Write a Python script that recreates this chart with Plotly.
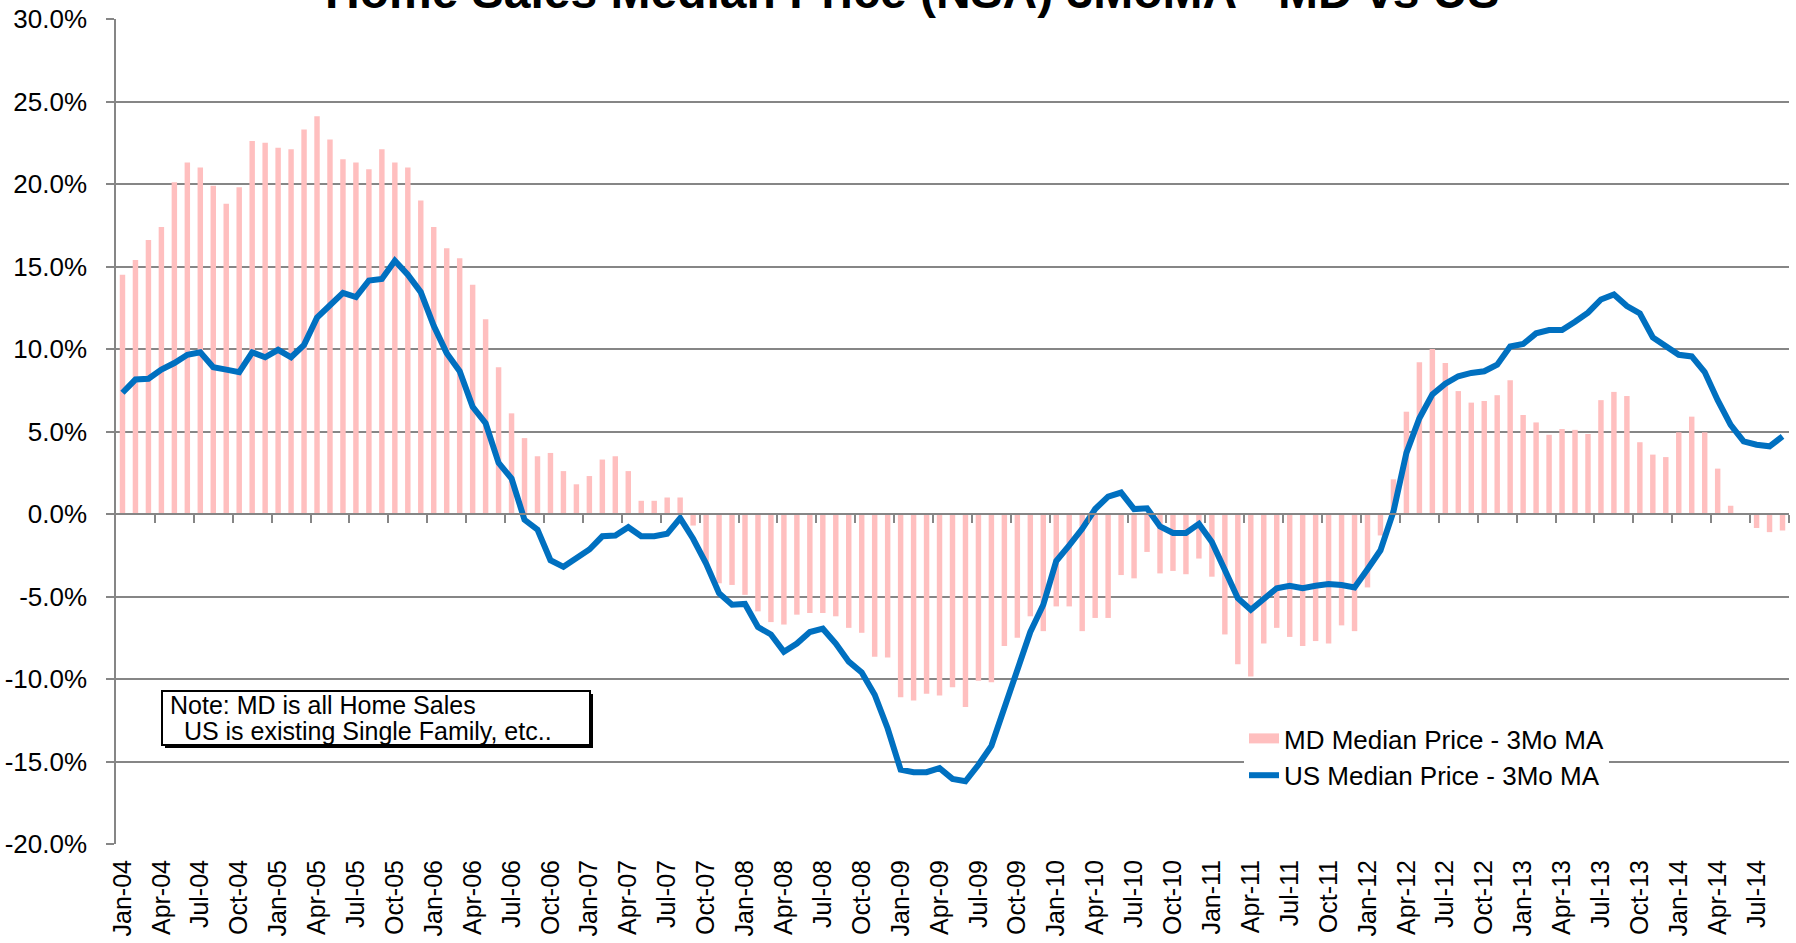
import plotly.graph_objects as go

# ---------------- data ----------------
month_abbr = ['Jan', 'Feb', 'Mar', 'Apr', 'May', 'Jun', 'Jul', 'Aug', 'Sep', 'Oct', 'Nov', 'Dec']
categories = [f"{m}-{y:02d}" for y in range(4, 15) for m in month_abbr][:129]   # Jan-04 .. Sep-14

md_median_3mma = [
    14.5, 15.4, 16.6, 17.4, 20.1, 21.3, 21.0, 19.9, 18.8, 19.8, 22.6, 22.5,   # 2004
    22.2, 22.1, 23.3, 24.1, 22.7, 21.5, 21.3, 20.9, 22.1, 21.3, 21.0, 19.0,   # 2005
    17.4, 16.1, 15.5, 13.9, 11.8, 8.9, 6.1, 4.6, 3.5, 3.7, 2.6, 1.8,          # 2006
    2.3, 3.3, 3.5, 2.6, 0.8, 0.8, 1.0, 1.0, -0.7, -2.9, -4.2, -4.3,           # 2007
    -4.9, -5.9, -6.55, -6.7, -6.1, -6.0, -6.0, -6.2, -6.9, -7.2, -8.65, -8.7, # 2008
    -11.1, -11.3, -10.9, -11.0, -10.5, -11.7, -10.1, -10.2, -8.0, -7.5, -6.2, -7.1,  # 2009
    -5.6, -5.6, -7.1, -6.3, -6.3, -3.7, -3.9, -2.3, -3.6, -3.45, -3.65, -2.7, # 2010
    -3.8, -7.3, -9.1, -9.85, -7.85, -6.9, -7.45, -8.0, -7.7, -7.85, -6.75, -7.1,  # 2011
    -4.45, -1.3, 2.1, 6.2, 9.2, 10.0, 9.15, 7.45, 6.75, 6.85, 7.2, 8.1,       # 2012
    6.0, 5.55, 4.8, 5.15, 5.1, 4.85, 6.9, 7.4, 7.15, 4.35, 3.6, 3.45,         # 2013
    4.95, 5.9, 4.95, 2.75, 0.5, -0.05, -0.85, -1.1, -1.0,                     # 2014
]

us_median_3mma = [
    7.35, 8.15, 8.2, 8.75, 9.15, 9.65, 9.8, 8.9, 8.75, 8.6, 9.8, 9.5,         # 2004
    9.95, 9.5, 10.25, 11.9, 12.65, 13.4, 13.15, 14.15, 14.25, 15.35, 14.5, 13.45,  # 2005
    11.4, 9.75, 8.65, 6.5, 5.5, 3.1, 2.15, -0.35, -0.95, -2.8, -3.2, -2.7,    # 2006
    -2.15, -1.35, -1.3, -0.8, -1.35, -1.35, -1.2, -0.25, -1.5, -3.0, -4.8, -5.5,  # 2007
    -5.45, -6.85, -7.3, -8.35, -7.85, -7.15, -6.95, -7.85, -8.95, -9.6, -10.95, -13.0,  # 2008
    -15.5, -15.65, -15.65, -15.4, -16.05, -16.2, -15.2, -14.05, -11.7, -9.6, -7.15, -5.5,  # 2009
    -2.85, -1.9, -0.9, 0.3, 1.05, 1.3, 0.3, 0.35, -0.75, -1.15, -1.15, -0.6,  # 2010
    -1.7, -3.4, -5.1, -5.8, -5.1, -4.5, -4.35, -4.5, -4.35, -4.25, -4.3, -4.45,  # 2011
    -3.35, -2.2, 0.15, 3.7, 5.8, 7.25, 7.9, 8.35, 8.55, 8.65, 9.05, 10.15,    # 2012
    10.3, 10.95, 11.15, 11.15, 11.65, 12.2, 13.0, 13.3, 12.6, 12.15, 10.7, 10.2,  # 2013
    9.65, 9.55, 8.6, 6.9, 5.4, 4.4, 4.2, 4.1, 4.7,                            # 2014
]

tick_labels = categories[::3]                       # Jan-04, Apr-04, ... Jul-14
quarter_bounds = [3 * k - 0.5 for k in range(1, 44)]  # tick marks between quarters
y_ticks = [-20, -15, -10, -5, 0, 5, 10, 15, 20, 25, 30]
y_tick_text = [f"{v:.1f}%" for v in y_ticks]

title_text = "Home Sales Median Price (NSA) 3MoMA - MD vs US"
md_name = "MD Median Price - 3Mo MA"
us_name = "US Median Price - 3Mo MA"
note_lines = ["Note: MD is all Home Sales", "\u00a0\u00a0US is existing Single Family, etc.."]

# ---------------- styling ----------------
W, H = 1796, 943
ML, MR, MT, MB = 116, 7, 19, 99
PW, PH = W - ML - MR, H - MT - MB
FONT = "Arial, 'Liberation Sans', Helvetica, sans-serif"
GRID = "#868686"
PINK = "#FFBFBF"
BLUE = "#0070C0"


def px_x(px):
    return (px - ML) / PW


def px_y(py):
    return (H - MB - py) / PH


fig = go.Figure()
fig.add_trace(go.Bar(x=categories, y=md_median_3mma, name=md_name,
                     marker=dict(color=PINK, line=dict(width=0)), showlegend=False))
# legend proxy for the bar series (wide pink swatch)
fig.add_trace(go.Scatter(x=[None], y=[None], mode="lines", name=md_name,
                         line=dict(color=PINK, width=14)))
fig.add_trace(go.Scatter(x=categories, y=us_median_3mma, mode="lines", name=us_name,
                         line=dict(color=BLUE, width=6)))
# helper trace so the zero-line category axis is drawn
fig.add_trace(go.Scatter(x=[None], y=[None], xaxis="x2", showlegend=False, hoverinfo="skip"))

fig.update_layout(
    width=W, height=H,
    margin=dict(l=ML, r=MR, t=MT, b=MB, pad=0, autoexpand=False),
    paper_bgcolor="white", plot_bgcolor="white",
    bargap=0.58,
    font=dict(family=FONT, size=26, color="black"),
    showlegend=True,
    legend=dict(x=px_x(1244), y=px_y(715), xanchor="left", yanchor="top",
                bgcolor="white", borderwidth=0, font=dict(size=26, color="black"),
                traceorder="normal", tracegroupgap=0),
    xaxis=dict(type="category", range=[-0.5, 128.5], tickmode="array",
               tickvals=tick_labels, ticktext=tick_labels, tickangle=-90,
               ticks="outside", ticklen=5, tickcolor="rgba(0,0,0,0)",
               showgrid=False, showline=False, zeroline=False, automargin=False,
               tickfont=dict(size=25, color="black")),
    xaxis2=dict(overlaying="x", anchor="free", position=0.4, range=[-0.5, 128.5],
                tickmode="array", tickvals=quarter_bounds, ticks="outside", ticklen=8,
                tickcolor=GRID, tickwidth=1.5, showticklabels=False,
                showline=True, linecolor=GRID, linewidth=1.5,
                showgrid=False, zeroline=False, automargin=False),
    yaxis=dict(range=[-20, 30], tickmode="array", tickvals=y_ticks, ticktext=y_tick_text,
               showgrid=True, gridcolor=GRID, gridwidth=1.5,
               showline=True, linecolor=GRID, linewidth=1.5,
               ticks="outside", ticklen=8, tickcolor=GRID, tickwidth=1.5,
               zeroline=False, ticklabelstandoff=14, automargin=False,
               tickfont=dict(size=26, color="black")),
)

# title (partly cut off at the top, as in the reference)
fig.add_annotation(text=f"<b>{title_text}</b>", x=px_x(912), y=px_y(20),
                   xref="paper", yref="paper", xanchor="center", yanchor="bottom",
                   showarrow=False, font=dict(size=48, color="black", family=FONT))

# note box with shadow
bx0, bx1, by0, by1 = 162, 590, 691, 745
fig.add_shape(type="rect", xref="paper", yref="paper",
              x0=px_x(bx0 + 3), x1=px_x(bx1 + 3), y0=px_y(by1 + 3), y1=px_y(by0 + 3),
              fillcolor="black", line=dict(width=0))
fig.add_shape(type="rect", xref="paper", yref="paper",
              x0=px_x(bx0), x1=px_x(bx1), y0=px_y(by1), y1=px_y(by0),
              fillcolor="white", line=dict(color="black", width=2))
fig.add_annotation(text=note_lines[0], x=px_x(168), y=px_y(705), xref="paper", yref="paper",
                   xanchor="left", yanchor="middle", showarrow=False,
                   font=dict(size=25, color="black"))
fig.add_annotation(text=note_lines[1], x=px_x(168), y=px_y(731), xref="paper", yref="paper",
                   xanchor="left", yanchor="middle", showarrow=False,
                   font=dict(size=25, color="black"))

fig.write_html("out.html", config={"displayModeBar": False},
               post_script="document.body.style.margin='0';document.body.style.overflow='hidden';")
